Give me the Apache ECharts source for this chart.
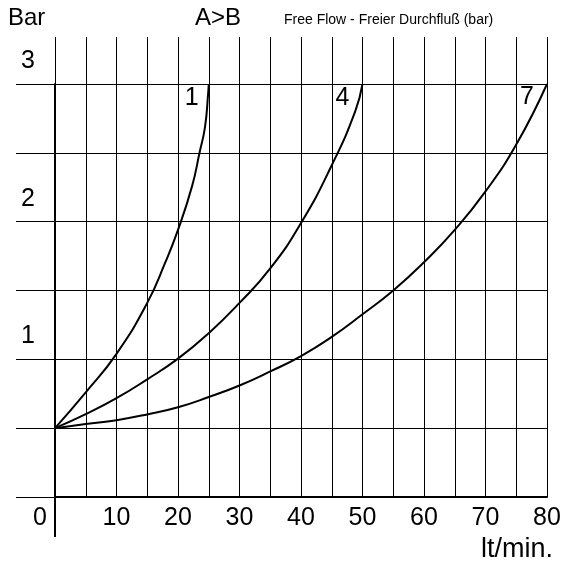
<!DOCTYPE html>
<html>
<head>
<meta charset="utf-8">
<script src="https://cdn.jsdelivr.net/npm/echarts@6/dist/echarts.min.js"></script>
<style>html,body{margin:0;padding:0;background:#fff}#c{width:566px;height:569px}</style>
</head>
<body>
<div id="c"></div>
<script>
// Data (flow in lt/min, pressure in bar)
const flow1 = [0, 5, 10, 15, 17.9, 20, 22.3, 23.5, 24.4, 24.9, 25];
const bar1  = [0.5, 0.76, 1.04, 1.41, 1.70, 1.94, 2.26, 2.5, 2.69, 2.93, 3];
const flow4 = [0, 5, 10, 15, 20, 25, 30, 35, 40, 45, 48.8, 50];
const bar4  = [0.5, 0.602, 0.718, 0.855, 1.005, 1.19, 1.41, 1.66, 1.99, 2.41, 2.8, 3];
const flow7 = [0, 5, 10, 15, 20, 25, 30, 35, 40, 45, 50, 55, 60, 65, 70, 75, 80];
const bar7  = [0.5, 0.53, 0.558, 0.6, 0.652, 0.726, 0.81, 0.912, 1.024, 1.163, 1.327, 1.5, 1.705, 1.94, 2.22, 2.56, 3];
const curveNames = ['1', '4', '7'];
const xTickLabels = ['0', '10', '20', '30', '40', '50', '60', '70', '80'];
const yTickLabels = ['1', '2', '3'];

const FONT = "'Liberation Sans', Arial, sans-serif";
const chart = echarts.init(document.getElementById('c'), null, {renderer: 'canvas'});

function pairs(xs, ys) { return xs.map((x, i) => [x, ys[i]]); }
const curves = [pairs(flow1, bar1), pairs(flow4, bar4), pairs(flow7, bar7)];

chart.setOption({
  animation: false,
  backgroundColor: '#fff',
  grid: [
    {left: 55, right: 19, top: 84, bottom: 72, containLabel: false},
    {left: 55, width: 3000, top: 84, bottom: 72, containLabel: false}
  ],
  graphic: [
    {type: 'text', left: 8, top: 6, style: {text: 'Bar', font: '24px ' + FONT, fill: '#000'}},
    {type: 'text', left: 195, top: 6, style: {text: 'A>B', font: '24px ' + FONT, fill: '#000'}},
    {type: 'text', left: 284, top: 13, style: {text: 'Free Flow - Freier Durchfluß (bar)', font: "14px 'Liberation Sans Narrow', 'Liberation Sans', Arial, sans-serif", fill: '#000'}},
    {type: 'text', right: 13, top: 536, style: {text: 'lt/min.', font: '27px ' + FONT, fill: '#000'}}
  ],
  xAxis: [
    {
      type: 'value', gridIndex: 0, position: 'bottom', min: 0, max: 80, interval: 5,
      axisLine: {show: true, onZero: false, lineStyle: {color: '#000', width: 2}},
      axisTick: {show: false},
      splitLine: {show: true, lineStyle: {color: '#000', width: 1}},
      axisLabel: {
        show: true, margin: 9, color: '#000', fontSize: 25, fontFamily: FONT,
        formatter: function (v) {
          const s = String(v);
          if (xTickLabels.indexOf(s) < 0) return '';
          return v === 0 ? '{z|' + s + '}' : s;
        },
        rich: {z: {fontSize: 25, fontFamily: FONT, color: '#000', padding: [0, 30, 0, 0]}}
      }
    },
    {
      type: 'value', gridIndex: 0, position: 'top', min: 0, max: 80, interval: 5,
      axisLine: {show: false, onZero: false},
      axisTick: {show: true, length: 47, lineStyle: {color: '#000', width: 1}},
      splitLine: {show: false},
      axisLabel: {show: false}
    },
    {
      type: 'value', gridIndex: 1, position: 'bottom', min: 0, max: 1, interval: 1,
      axisLine: {show: false, onZero: false},
      axisTick: {show: true, length: 40, lineStyle: {color: '#000', width: 2}},
      splitLine: {show: false},
      axisLabel: {show: false}
    }
  ],
  yAxis: [
    {
      type: 'value', gridIndex: 0, min: 0, max: 3, interval: 0.5,
      axisLine: {show: true, lineStyle: {color: '#000', width: 2}},
      axisTick: {show: true, length: 39, lineStyle: {color: '#000', width: 1}},
      splitLine: {show: true, lineStyle: {color: '#000', width: 1}},
      axisLabel: {
        show: true, margin: 20, color: '#000', fontSize: 25, fontFamily: FONT,
        formatter: function (v) { const s = String(v); return yTickLabels.indexOf(s) >= 0 ? '{a|' + s + '}' : ''; },
        rich: {a: {fontSize: 25, fontFamily: FONT, color: '#000', padding: [0, 0, 46, 0]}}
      }
    },
    {
      type: 'value', gridIndex: 1, min: 0, max: 1, show: false
    }
  ],
  series: curves.map((d, i) => ({
    type: 'line', name: curveNames[i], data: d, xAxisIndex: 0, yAxisIndex: 0,
    smooth: 0.5, showSymbol: false, symbol: 'none',
    lineStyle: {color: '#000', width: 2},
    endLabel: {
      show: true, formatter: curveNames[i], color: '#000', fontSize: 25, fontFamily: FONT,
      distance: 0, align: 'center', verticalAlign: 'middle',
      offset: [[-17, 14], [-20, 14], [-20, 13]][i]
    },
    silent: true
  }))
});
</script>
</body>
</html>
